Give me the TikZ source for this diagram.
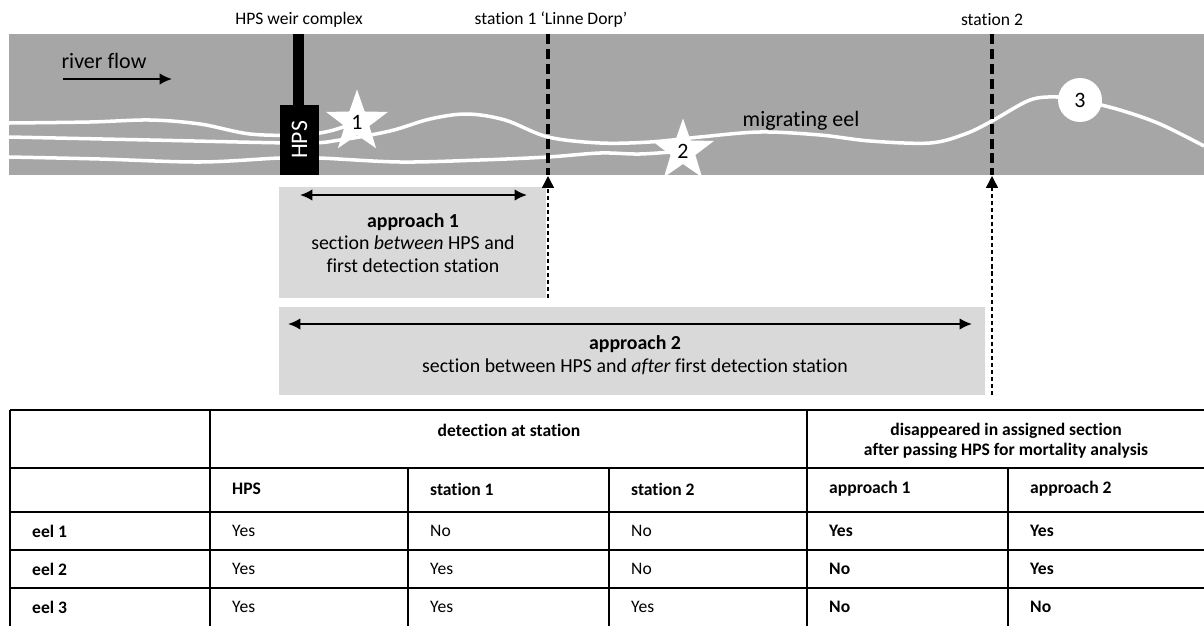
\documentclass[tikz,border=0pt]{standalone}
\usepackage{fontspec}
\setmainfont{Carlito}[Ligatures={TeX,NoCommon,NoContextual},Contextuals={NoAlternate}]
\usepackage{xcolor}
\usepackage{tikz}
\usetikzlibrary{arrows,arrows.meta,shapes}
\usetikzlibrary{shapes.geometric}

\definecolor{river}{HTML}{A6A6A6}
\definecolor{sect}{HTML}{D9D9D9}

\begin{document}
\begin{tikzpicture}[x=0.02cm, y=-0.02cm,
  eel/.style={draw=white, line width=2pt},
  eelstar/.style={star, star points=5, star point ratio=2.5, fill=white, inner sep=0pt, minimum size=1.3cm, font=\fontsize{12.5}{14}\selectfont},
  eelcirc/.style={circle, fill=white, inner sep=0pt, minimum size=0.88cm, font=\fontsize{12.5}{14}\selectfont},
  stline/.style={line width=2.3pt, dash pattern=on 5.7pt off 2.8pt},
  starrow/.style={line width=0.85pt, dash pattern=on 2.3pt off 1.7pt, -{Triangle[width=6.8pt,length=6.8pt]}},
  dbl/.style={line width=1.1pt, {Latex[length=7pt,width=6.5pt]}-{Latex[length=7pt,width=6.5pt]}},
  lab/.style={font=\fontsize{10}{12}\selectfont},
  big/.style={font=\fontsize{12.5}{15}\selectfont},
  sectxt/.style={align=center, font=\fontsize{11.3}{13}\selectfont},
  tline/.style={line width=1.1pt},
  tcell/.style={anchor=west, font=\fontsize{10}{12}\selectfont},
  tbold/.style={tcell, font=\fontsize{10}{12}\selectfont\bfseries},
  thead/.style={align=center, font=\fontsize{10}{11.3}\selectfont\bfseries}]
 \useasboundingbox (0,0) rectangle (1204,626);

 %river
 \path[fill=river] (9,34) rectangle (1204,175);
 \node[big] (lflow) at (104,61) {river flow};
 \coordinate (fl1) at (63,79);
 \coordinate (fl2) at (172,79);
 \path[draw, line width=1.1pt, -{Latex[length=7pt,width=6.5pt]}] (fl1) -- (fl2);
 \node[big] (leel) at (801,121) {migrating eel};

 %eel positions
 \coordinate (p1) at (357,122);
 \coordinate (p2) at (683,151);
 \coordinate (p3) at (1080,100);

 %eel tracks
 \draw[eel] plot[smooth, tension=0.55] coordinates {(9,123) (90,122) (150,120) (200,124) (250,134) (300,135) (330,131) (p1)};
 \draw[eel] plot[smooth, tension=0.55] coordinates {(9,137) (150,140) (300,143) (340,140) (390,131) (430,119) (467,114) (505,120) (548,137) (600,143) (650,142) (700,137) (760,132) (820,135) (870,141) (930,143) (965,134) (992,121) (1030,100) (1058,97) (p3) (1120,110) (1160,124) (1204,146)};
 \draw[eel] plot[smooth, tension=0.55] coordinates {(9,157) (100,159) (200,162) (280,158) (319,158) (400,162) (480,160) (548,157) (600,153) (640,154) (p2)};

 %HPS weir
 \path[fill=black] (293,34) rectangle (304,106);
 \node[fill=black, text=white, rotate=90, minimum width=1.4cm, minimum height=0.78cm, inner sep=0pt, font=\fontsize{13.5}{15}\selectfont] (hps) at (299.5,140) {HPS};
 \node[lab] (lweir) at (299,20) {HPS weir complex};

 %stations
 \coordinate (s1top) at (548,34);
 \coordinate (s1bot) at (548,175);
 \coordinate (s2top) at (992,34);
 \coordinate (s2bot) at (992,175);
 \path[draw, stline] (s1top) -- (s1bot);
 \path[draw, stline] (s2top) -- (s2bot);
 \node[lab] (lst1) at (551,20) {station 1 `Linne Dorp'};
 \node[lab] (lst2) at (992,20) {station 2};

 %eels
 \node[eelstar] (star1) at (p1) {1};
 \node[eelstar] (star2) at (p2) {2};
 \node[eelcirc] (circ3) at (p3) {3};

 %approach 1
 \path[fill=sect] (279,187) rectangle (546,298);
 \coordinate (a1l) at (300,195);
 \coordinate (a1r) at (527,195);
 \path[draw, dbl] (a1l) -- (a1r);
 \node[sectxt] (ap1) at (413,243) {\textbf{approach 1}\\section \textit{between} HPS and\\first detection station};

 %approach 2
 \path[fill=sect] (279,307) rectangle (985,395);
 \coordinate (a2l) at (288,324);
 \coordinate (a2r) at (972,324);
 \path[draw, dbl] (a2l) -- (a2r);
 \node[sectxt] (ap2) at (635,355) {\textbf{approach 2}\\section between HPS and \textit{after} first detection station};

 %station arrows
 \coordinate (s1end) at (548,298);
 \coordinate (s2end) at (992,395);
 \coordinate (s1tip) at (548,176);
 \coordinate (s2tip) at (992,176);
 \path[draw, starrow] (s1end) -- (s1tip);
 \path[draw, starrow] (s2end) -- (s2tip);

 %table lines
 \path[draw, tline] (10,410) -- (1204,410);
 \path[draw, tline] (10,468) -- (1204,468);
 \path[draw, tline] (10,512) -- (1204,512);
 \path[draw, tline] (10,550) -- (1204,550);
 \path[draw, tline] (10,588) -- (1204,588);
 \path[draw, tline] (10,410) -- (10,626);
 \path[draw, tline] (210,410) -- (210,626);
 \path[draw, tline] (807,410) -- (807,626);
 \path[draw, tline] (408,468) -- (408,626);
 \path[draw, tline] (609,468) -- (609,626);
 \path[draw, tline] (1008,468) -- (1008,626);

 %table head
 \node[thead] (hdet) at (509,430) {detection at station};
 \node[thead] (hdis) at (1006,441) {disappeared in assigned section\\after passing HPS for mortality analysis};
 \node[tbold] (hhps) at (226,489) {HPS};
 \node[tbold] (hst1) at (424,489) {station 1};
 \node[tbold] (hst2) at (625,489) {station 2};
 \node[tbold] (hap1) at (823,489) {approach 1};
 \node[tbold] (hap2) at (1024,489) {approach 2};

 %eel 1
 \node[tbold] (e1) at (26,531) {eel 1};
 \node[tcell] (e1hps) at (226,531) {Yes};
 \node[tcell] (e1st1) at (424,531) {No};
 \node[tcell] (e1st2) at (625,531) {No};
 \node[tbold] (e1ap1) at (823,531) {Yes};
 \node[tbold] (e1ap2) at (1024,531) {Yes};
 %eel 2
 \node[tbold] (e2) at (26,569) {eel 2};
 \node[tcell] (e2hps) at (226,569) {Yes};
 \node[tcell] (e2st1) at (424,569) {Yes};
 \node[tcell] (e2st2) at (625,569) {No};
 \node[tbold] (e2ap1) at (823,569) {No};
 \node[tbold] (e2ap2) at (1024,569) {Yes};
 %eel 3
 \node[tbold] (e3) at (26,607) {eel 3};
 \node[tcell] (e3hps) at (226,607) {Yes};
 \node[tcell] (e3st1) at (424,607) {Yes};
 \node[tcell] (e3st2) at (625,607) {Yes};
 \node[tbold] (e3ap1) at (823,607) {No};
 \node[tbold] (e3ap2) at (1024,607) {No};
\end{tikzpicture}
\end{document}
